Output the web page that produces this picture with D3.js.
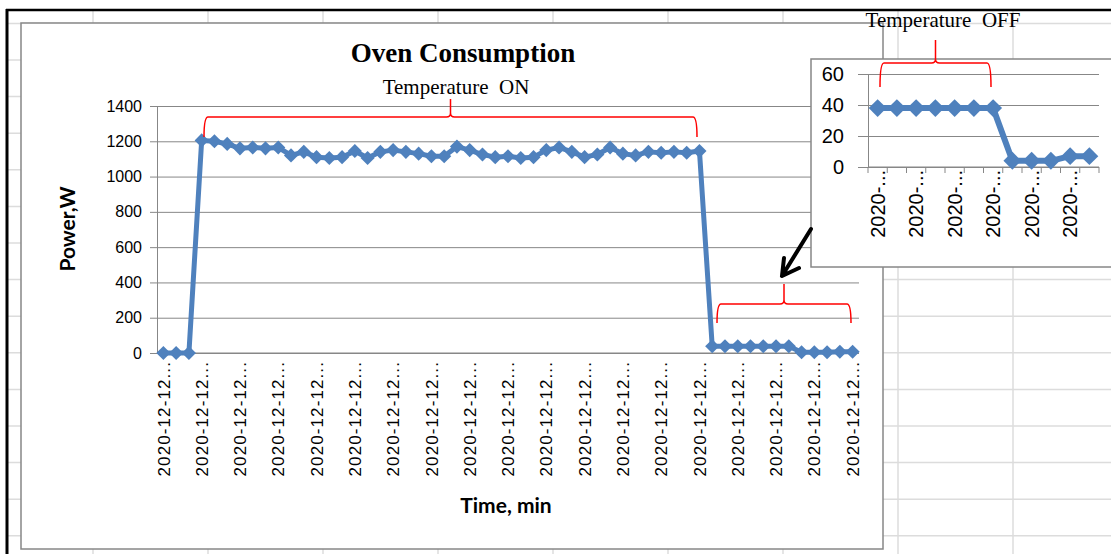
<!DOCTYPE html>
<html>
<head>
<meta charset="utf-8">
<script src="https://cdn.jsdelivr.net/npm/d3@7/dist/d3.min.js"></script>
<style>
  body { margin: 0; background: #fff; }
  svg { display: block; }
</style>
</head>
<body>
<svg id="chart" width="1111" height="554"></svg>
<script>
// power readings, one per minute (W)
const powerW = [0, 0, 0,
  1205, 1200, 1185, 1160, 1165, 1160, 1165, 1120, 1140, 1110, 1105, 1110, 1145, 1105,
  1140, 1150, 1140, 1130, 1115, 1115, 1170, 1150, 1125, 1110, 1115, 1105, 1110, 1150,
  1165, 1140, 1110, 1125, 1165, 1130, 1120, 1140, 1135, 1140, 1135, 1145,
  38, 38, 38, 38, 38, 38, 38, 4, 4, 4, 7, 7];
const yTicks = [0, 200, 400, 600, 800, 1000, 1200, 1400];
const xTickLabel = "2020-12-12...";
const xLabelStep = 3;

// zoomed "temperature off" part
const offStart = 43;
const offPowerW = powerW.slice(offStart);
const insetYTicks = [0, 20, 40, 60];
const insetTickLabel = "2020-...";
const insetLabelStep = 2;

const blue = "#4f81bd", gridGray = "#878787", sheetGray = "#dcdcdc";
const svg = d3.select("#chart");

// spreadsheet background
svg.append("rect").attr("width", 1111).attr("height", 554).attr("fill", "#fff");
var sheet = svg.append("g").attr("stroke", sheetGray).attr("stroke-width", 1.5);
d3.range(93, 1111, 115).forEach(function (x) {
  sheet.append("line").attr("x1", x).attr("x2", x).attr("y1", 10).attr("y2", 554);
});
d3.range(23.4, 554, 36.6).forEach(function (y) {
  sheet.append("line").attr("x1", 7).attr("x2", 1111).attr("y1", y).attr("y2", y);
});
svg.append("line").attr("x1", 7).attr("x2", 7).attr("y1", 9).attr("y2", 554)
  .attr("stroke", "#000").attr("stroke-width", 3);
svg.append("line").attr("x1", 6).attr("x2", 1111).attr("y1", 10).attr("y2", 10)
  .attr("stroke", "#000").attr("stroke-width", 2.5);

// main chart area
svg.append("rect").attr("x", 21).attr("y", 23).attr("width", 862).attr("height", 526)
  .attr("fill", "#fff").attr("stroke", gridGray).attr("stroke-width", 1.5);

const x = d3.scaleBand().domain(d3.range(powerW.length)).range([157, 859]);
const y = d3.scaleLinear().domain([0, 1400]).range([353, 106]);
const cx = i => x(i) + x.bandwidth() / 2;

var yAxis = svg.append("g").attr("transform", "translate(157,0)")
  .call(d3.axisLeft(y).tickValues(yTicks).tickFormat(d3.format("d")).tickSize(7).tickPadding(8));
yAxis.select(".domain").attr("stroke", gridGray);
yAxis.selectAll(".tick line").clone().attr("x2", 859 - 157);
yAxis.selectAll(".tick line").attr("stroke", gridGray);
yAxis.selectAll("text").attr("font-family", "Liberation Sans, Arial, sans-serif")
  .attr("font-size", 16).attr("fill", "#000");

svg.append("line").attr("x1", 157).attr("x2", 859).attr("y1", y(0)).attr("y2", y(0))
  .attr("stroke", gridGray);

svg.append("g").selectAll("text")
  .data(d3.range(0, powerW.length, xLabelStep))
  .join("text")
  .attr("transform", d => "translate(" + cx(d) + ",361) rotate(-90)")
  .attr("dy", "0.36em")
  .attr("text-anchor", "end")
  .attr("font-family", "Liberation Sans, Arial, sans-serif")
  .attr("font-size", 17)
  .attr("letter-spacing", 1.1)
  .text(xTickLabel);

svg.append("path")
  .datum(powerW)
  .attr("d", d3.line().x((d, i) => cx(i)).y(d => y(d)))
  .attr("fill", "none").attr("stroke", blue).attr("stroke-width", 5)
  .attr("stroke-linejoin", "round");

svg.append("g").selectAll("path")
  .data(powerW)
  .join("path")
  .attr("d", d3.symbol(d3.symbolSquare, 100)())
  .attr("transform", (d, i) => "translate(" + cx(i) + "," + y(d) + ") rotate(45)")
  .attr("fill", blue);

svg.append("text").attr("x", 463).attr("y", 62).attr("text-anchor", "middle")
  .attr("font-family", "Liberation Serif, Times New Roman, serif")
  .attr("font-weight", "bold").attr("font-size", 27).text("Oven Consumption");

svg.append("text").attr("x", 506).attr("y", 513).attr("text-anchor", "middle")
  .attr("font-family", "Lato, sans-serif").attr("font-weight", "bold")
  .attr("font-size", 21).text("Time, min");

svg.append("text").attr("transform", "translate(75,229) rotate(-90)")
  .attr("text-anchor", "middle")
  .attr("font-family", "Lato, sans-serif").attr("font-weight", "bold")
  .attr("font-size", 21).text("Power,W");

// curly bracket pointing up
function brace(x1, x2, yTip, yBar, yPeak) {
  var m = (x1 + x2) / 2, r = 4;
  return "M" + x1 + "," + yTip +
    " Q" + x1 + "," + yBar + " " + (x1 + r) + "," + yBar +
    " L" + (m - r) + "," + yBar +
    " Q" + m + "," + yBar + " " + m + "," + (yBar - r) +
    " L" + m + "," + yPeak +
    " M" + m + "," + (yBar - r) +
    " Q" + m + "," + yBar + " " + (m + r) + "," + yBar +
    " L" + (x2 - r) + "," + yBar +
    " Q" + x2 + "," + yBar + " " + x2 + "," + yTip;
}

svg.append("path").attr("d", brace(204, 697, 137, 117, 99))
  .attr("fill", "none").attr("stroke", "#ff0000").attr("stroke-width", 1.5);
svg.append("text").attr("x", 456).attr("y", 94).attr("text-anchor", "middle")
  .attr("font-family", "Liberation Serif, Times New Roman, serif")
  .attr("font-size", 21).attr("xml:space", "preserve").text("Temperature  ON");

svg.append("path").attr("d", brace(717, 851, 323, 304, 284))
  .attr("fill", "none").attr("stroke", "#ff0000").attr("stroke-width", 1.5);

// inset
svg.append("rect").attr("x", 811).attr("y", 59).attr("width", 310).attr("height", 208)
  .attr("fill", "#fff").attr("stroke", gridGray).attr("stroke-width", 1.5);

const xi = d3.scaleBand().domain(d3.range(offPowerW.length)).range([868, 1099]);
const yi = d3.scaleLinear().domain([0, 60]).range([167, 74]);
const cxi = i => xi(i) + xi.bandwidth() / 2;

var yAxisI = svg.append("g").attr("transform", "translate(868,0)")
  .call(d3.axisLeft(yi).tickValues(insetYTicks).tickSize(10).tickPadding(14));
yAxisI.select(".domain").attr("stroke", gridGray);
yAxisI.selectAll(".tick line").clone().attr("x2", 1099 - 868);
yAxisI.selectAll(".tick line").attr("stroke", gridGray);
yAxisI.selectAll("text").attr("font-family", "Liberation Sans, Arial, sans-serif")
  .attr("font-size", 20).attr("fill", "#000");

svg.append("line").attr("x1", 868).attr("x2", 1099).attr("y1", yi(0)).attr("y2", yi(0))
  .attr("stroke", gridGray);
svg.append("g").selectAll("line")
  .data(d3.range(offPowerW.length + 1))
  .join("line")
  .attr("x1", d => 868 + d * xi.bandwidth()).attr("x2", d => 868 + d * xi.bandwidth())
  .attr("y1", yi(0)).attr("y2", yi(0) + 6)
  .attr("stroke", gridGray);

svg.append("g").selectAll("text")
  .data(d3.range(0, offPowerW.length, insetLabelStep))
  .join("text")
  .attr("transform", d => "translate(" + cxi(d) + ",170) rotate(-90)")
  .attr("dy", "0.35em")
  .attr("text-anchor", "end")
  .attr("font-family", "Liberation Sans, Arial, sans-serif")
  .attr("font-size", 20)
  .text(insetTickLabel);

svg.append("path")
  .datum(offPowerW)
  .attr("d", d3.line().x((d, i) => cxi(i)).y(d => yi(d)))
  .attr("fill", "none").attr("stroke", blue).attr("stroke-width", 6)
  .attr("stroke-linejoin", "round");

svg.append("g").selectAll("path")
  .data(offPowerW)
  .join("path")
  .attr("d", d3.symbol(d3.symbolSquare, 160)())
  .attr("transform", (d, i) => "translate(" + cxi(i) + "," + yi(d) + ") rotate(45)")
  .attr("fill", blue);

svg.append("path").attr("d", brace(880, 991, 87, 63, 40))
  .attr("fill", "none").attr("stroke", "#ff0000").attr("stroke-width", 1.5);
svg.append("text").attr("x", 943).attr("y", 27).attr("text-anchor", "middle")
  .attr("font-family", "Liberation Serif, Times New Roman, serif")
  .attr("font-size", 21).attr("xml:space", "preserve").text("Temperature  OFF");

// arrow from the inset to the low part
svg.append("path")
  .attr("d", "M811,229 L782,276 M784,258 L782,276 L799,268")
  .attr("fill", "none").attr("stroke", "#000").attr("stroke-width", 4)
  .attr("stroke-linecap", "round").attr("stroke-linejoin", "round");
</script>
</body>
</html>
